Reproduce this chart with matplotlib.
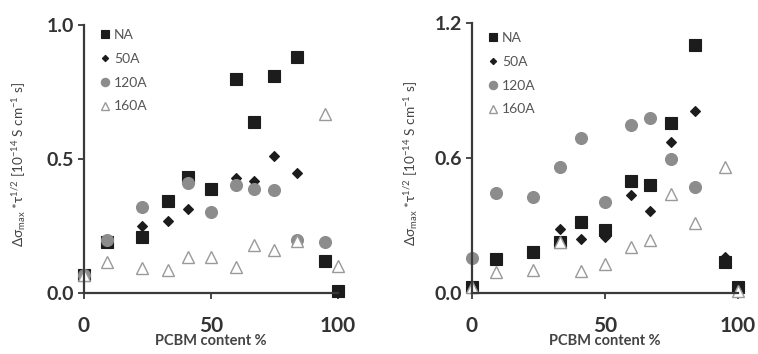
import numpy as np
import matplotlib
matplotlib.use("Agg")
import matplotlib.pyplot as plt

plt.rcParams["font.family"] = ["Lato", "DejaVu Sans"]
plt.rcParams["mathtext.fontset"] = "custom"
plt.rcParams["mathtext.rm"] = "Open Sans"
plt.rcParams["mathtext.it"] = "Open Sans:italic"
plt.rcParams["mathtext.bf"] = "Open Sans:bold"
plt.rcParams["mathtext.default"] = "regular"

# PCBM content (%) of the blends
pcbm = [0, 9, 23, 33, 41, 50, 60, 67, 75, 84, 95, 100]
series_names = ["NA", "50A", "120A", "160A"]
nan = np.nan

# Left panel: delta sigma_max * tau^(1/2), 1e-14 S cm^-1 s
left_na   = [0.07, 0.19, 0.21, 0.345, 0.435, 0.39, 0.80, 0.64, 0.81, 0.88, 0.12, 0.01]
left_50a  = [nan, 0.19, 0.25, 0.27, 0.313, nan, 0.43, 0.42, 0.51, 0.45, 0.12, nan]
left_120a = [0.07, 0.20, 0.323, nan, 0.41, 0.304, 0.404, 0.39, 0.385, 0.20, 0.19, nan]
left_160a = [0.07, 0.115, 0.093, 0.085, 0.136, 0.134, 0.099, 0.18, 0.16, 0.195, 0.668, 0.10]

# Right panel
right_na   = [0.03, 0.151, 0.185, 0.23, 0.318, 0.281, 0.50, 0.481, 0.755, 1.103, 0.14, 0.03]
right_50a  = [nan, 0.15, 0.18, 0.284, 0.241, 0.252, 0.437, 0.366, 0.671, 0.811, 0.16, nan]
right_120a = [0.156, 0.447, 0.43, 0.56, 0.69, 0.404, 0.749, 0.781, 0.597, 0.474, nan, nan]
right_160a = [0.03, 0.096, 0.104, 0.23, 0.10, 0.13, 0.207, 0.237, 0.441, 0.311, 0.56, 0.01]

left_yticks = [0.0, 0.5, 1.0]
right_yticks = [0.0, 0.6, 1.2]
xticks = [0, 50, 100]

W, H = 758, 354
fig = plt.figure(figsize=(W / 100, H / 100), dpi=100)

AX_COL = "#3a3a3a"
TXT_COL = "#333333"

styles = [
    dict(marker="s", ms=9, mfc="#1c1c1c", mec="#1c1c1c", mew=0.8),
    dict(marker="D", ms=4.6, mfc="#1c1c1c", mec="#1c1c1c", mew=0.8),
    dict(marker="o", ms=8.6, mfc="#8c8c8c", mec="#8c8c8c", mew=0.8),
    dict(marker="^", ms=9, mfc="white", mec="#9a9a9a", mew=1.0),
]


def panel(rect, series, yticks, ylim, leg_xy, ylab_x):
    ax = fig.add_axes([rect[0] / W, 1 - rect[3] / H,
                       (rect[2] - rect[0]) / W, (rect[3] - rect[1]) / H])
    for vals, name, st in zip(series, series_names, styles):
        ax.plot(pcbm, vals, linestyle="none", label=name, clip_on=False, **st)
    ax.set_xlim(0, 100)
    ax.set_ylim(*ylim)
    ax.set_xticks(xticks)
    ax.set_yticks(yticks)
    ax.set_yticklabels([f"{v:.1f}" for v in yticks])
    for s in ["top", "right"]:
        ax.spines[s].set_visible(False)
    for s in ["left", "bottom"]:
        ax.spines[s].set_color(AX_COL)
        ax.spines[s].set_linewidth(1.6)
    ax.tick_params(axis="both", direction="out", length=4, width=1.3,
                   color=AX_COL, labelcolor=TXT_COL)
    ax.tick_params(axis="x", pad=12, labelsize=15)
    ax.tick_params(axis="y", pad=3, labelsize=14)
    for lab in ax.get_xticklabels() + ax.get_yticklabels():
        lab.set_fontweight("bold")
    ax.set_xlabel("PCBM content %", fontsize=10.5, fontweight="bold",
                  color="#444444", labelpad=-1)
    ax.set_ylabel(r"$\Delta\sigma_{max}$ *$\tau^{1/2}$ [10$^{-14}$ S cm$^{-1}$ s]",
                  fontsize=9.8, color="#444444")
    ax.yaxis.set_label_coords(ylab_x, 0.48)
    leg = ax.legend(loc="upper left", bbox_to_anchor=(leg_xy[0] / W, 1 - leg_xy[1] / H),
                    bbox_transform=fig.transFigure, frameon=False,
                    fontsize=10, markerscale=0.7, handlelength=0.7,
                    handletextpad=0.3, labelspacing=0.85, borderpad=0,
                    borderaxespad=0)
    for t in leg.get_texts():
        t.set_color("#555555")
    return ax


panel((84, 25, 337.7, 293.3), [left_na, left_50a, left_120a, left_160a],
      left_yticks, (0, 1.0), (100, 29), -0.22)
panel((471.7, 23.3, 738, 293.3), [right_na, right_50a, right_120a, right_160a],
      right_yticks, (0, 1.2), (488, 32), -0.195)

fig.savefig("out.png", dpi=100)
